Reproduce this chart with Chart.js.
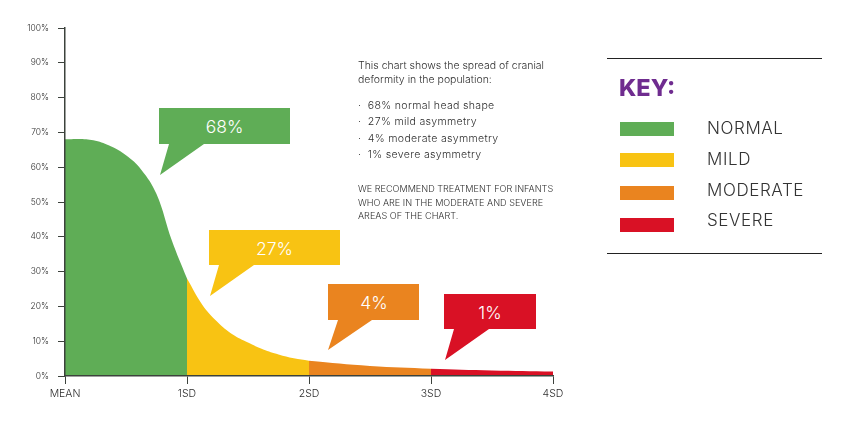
<!DOCTYPE html>
<html>
<head>
<meta charset="utf-8">
<script src="https://cdn.jsdelivr.net/npm/chart.js@4/dist/chart.umd.min.js"></script>
<style>
  html, body { margin: 0; padding: 0; background: #fff; }
  #wrap { position: relative; width: 848px; height: 428px; overflow: hidden; font-family: Inter, "Open Sans", sans-serif; color: #2e2e2e; }
  #myChart { position: absolute; left: 0; top: 0; }
  .callout { position: absolute; color: #fff; font-size: 17.5px; font-weight: 300; text-align: center; }
  .callout span { position: absolute; left: 0; right: 0; line-height: 20px; }
  #c0 { left: 159px; top: 108px; width: 131px; height: 67px; background: #5fad56; clip-path: polygon(0 0, 131px 0, 131px 36px, 45px 36px, 1px 67px, 10px 36px, 0 36px); }
  #c1 { left: 209px; top: 230px; width: 131px; height: 66px; background: #f8c313; clip-path: polygon(0 0, 131px 0, 131px 35px, 45px 35px, 1px 66px, 10px 35px, 0 35px); }
  #c2 { left: 328px; top: 284px; width: 91px; height: 66px; background: #ea841f; clip-path: polygon(0 0, 91px 0, 91px 36px, 44px 36px, 0 66px, 10px 36px, 0 36px); }
  #c3 { left: 444px; top: 294px; width: 92px; height: 66px; background: #d91125; clip-path: polygon(0 0, 92px 0, 92px 35px, 45px 35px, 1px 66px, 10px 35px, 0 35px); }
  #c0 span { top: 9px; } #c1 span { top: 9px; } #c2 span { top: 9px; left: 1px; } #c3 span { top: 9px; }
  .note { position: absolute; left: 358px; white-space: nowrap; font-size: 10.5px; line-height: 14px; font-weight: 300; }
  .note.list { font-size: 10.6px; letter-spacing: 0.3px; }
  .note.caps { font-size: 9.1px; }
  .rule { position: absolute; left: 607px; width: 215px; height: 1px; background: #222; }
  #key { position: absolute; left: 619px; top: 72px; font-size: 23.5px; line-height: 32px; font-weight: 800; color: #6f2c8f; }
  .swatch { position: absolute; left: 620px; width: 54px; height: 14px; }
  .keylabel { position: absolute; left: 707px; font-size: 17px; line-height: 20px; letter-spacing: 0.6px; font-weight: 300; color: #333; }
</style>
</head>
<body>
<div id="wrap">
  <canvas id="myChart" width="848" height="428"></canvas>
  <div class="rule" style="top:58px"></div>
  <div class="rule" style="top:253px"></div>
  <div id="key">KEY:</div>
</div>
<script>
const xLabels = ["MEAN", "1SD", "2SD", "3SD", "4SD"]

// x in standard deviations, y in percent
const normalX = [0, 0.125, 0.25, 0.375, 0.5, 0.625, 0.75, 0.875, 1]
const normalY = [68, 68.1, 67.6, 66, 63.4, 59.3, 52.3, 39, 28]
const mildX = [1, 1.125, 1.25, 1.375, 1.5, 1.625, 1.75, 1.875, 2]
const mildY = [28, 20.5, 15.5, 11.9, 9.6, 7.6, 6.2, 5.1, 4.4]
const moderateX = [2, 2.5, 3]
const moderateY = [4.4, 2.9, 2.1]
const severeX = [3, 3.5, 4]
const severeY = [2.1, 1.6, 1.3]

const keyLabels = ["NORMAL", "MILD", "MODERATE", "SEVERE"]
const keyColors = ["#5fad56", "#f8c313", "#ea841f", "#d91125"]
const calloutLabels = ["68%", "27%", "4%", "1%"]

const noteLines = [
  ["This chart shows the spread of cranial", 59, ""],
  ["deformity in the population:", 73, ""],
  ["·\u00a0\u00a068% normal head shape", 99, "list"],
  ["·\u00a0\u00a027% mild asymmetry", 115, "list"],
  ["·\u00a0\u00a04% moderate asymmetry", 132, "list"],
  ["·\u00a0\u00a01% severe asymmetry", 148, "list"],
  ["WE RECOMMEND TREATMENT FOR INFANTS", 182, "caps"],
  ["WHO ARE IN THE MODERATE AND SEVERE", 196, "caps"],
  ["AREAS OF THE CHART.", 209, "caps"]
]
const keyTops = [122, 153, 186, 218]
const keyLabelTops = [118, 149, 180, 210]

const wrap = document.getElementById("wrap")

function addDiv(className, text, top) {
  const div = document.createElement("div")
  div.className = className
  div.textContent = text
  div.style.top = top + "px"
  wrap.appendChild(div)
  return div
}

calloutLabels.forEach((label, i) => {
  const div = document.createElement("div")
  div.className = "callout"
  div.id = "c" + i
  const span = document.createElement("span")
  span.textContent = label
  div.appendChild(span)
  wrap.appendChild(div)
})

noteLines.forEach(line => addDiv("note " + line[2], line[0], line[1]))

keyLabels.forEach((label, i) => {
  addDiv("swatch", "", keyTops[i]).style.background = keyColors[i]
  addDiv("keylabel", label, keyLabelTops[i])
})

function zip(xs, ys) {
  return xs.map((x, i) => ({ x: x, y: ys[i] }))
}

function area(label, xs, ys, color) {
  return {
    label: label,
    data: zip(xs, ys),
    backgroundColor: color,
    borderWidth: 0,
    pointRadius: 0,
    fill: "origin",
    tension: 0.4
  }
}

new Chart(document.getElementById("myChart").getContext("2d"), {
  type: "line",
  data: {
    datasets: [
      area(keyLabels[0], normalX, normalY, keyColors[0]),
      area(keyLabels[1], mildX, mildY, keyColors[1]),
      area(keyLabels[2], moderateX, moderateY, keyColors[2]),
      area(keyLabels[3], severeX, severeY, keyColors[3])
    ]
  },
  options: {
    responsive: false,
    animation: false,
    layout: { padding: { top: 28, right: 295, left: 0, bottom: 0 } },
    plugins: { legend: { display: false }, tooltip: { enabled: false } },
    scales: {
      x: {
        type: "linear",
        min: 0,
        max: 4,
        afterFit: scale => { scale.height = 52 },
        border: { color: "#3c423c", width: 1.5, z: 2 },
        grid: { drawOnChartArea: false, color: "#3c423c", tickLength: 8, tickWidth: 1 },
        ticks: {
          stepSize: 1,
          maxRotation: 0,
          padding: 4,
          color: "#2e2e2e",
          font: { family: "Inter", size: 10.5, weight: 300 },
          callback: value => xLabels[value]
        }
      },
      y: {
        min: 0,
        max: 100,
        afterFit: scale => { scale.width = 65 },
        border: { color: "#3c423c", width: 1.5, z: 2 },
        grid: { drawOnChartArea: false, color: "#3c423c", tickLength: 7, tickWidth: 1 },
        ticks: {
          stepSize: 10,
          padding: 9,
          color: "#2e2e2e",
          font: { family: "Inter", size: 8.5, weight: 300 },
          callback: value => value + "%"
        }
      }
    }
  }
})
</script>
</body>
</html>
